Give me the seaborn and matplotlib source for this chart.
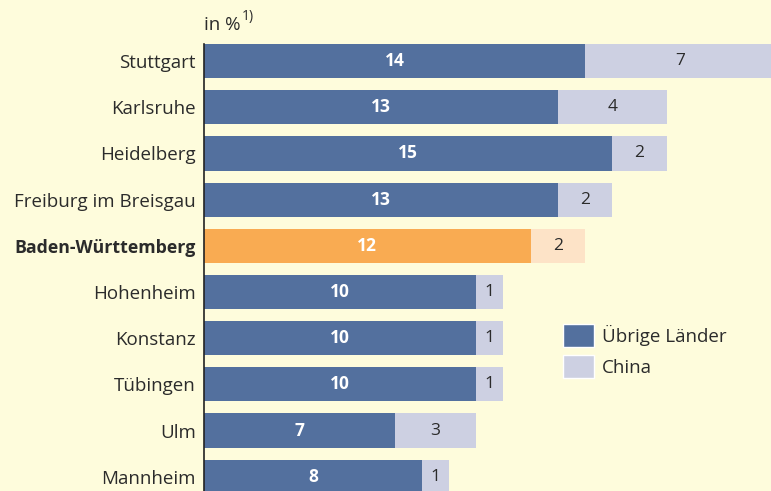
import pandas as pd
import seaborn as sns
from matplotlib import pyplot as plt
from matplotlib.patches import Patch

cities = ["Stuttgart", "Karlsruhe", "Heidelberg", "Freiburg im Breisgau", "Baden-Württemberg",
          "Hohenheim", "Konstanz", "Tübingen", "Ulm", "Mannheim"]
uebrige = [14, 13, 15, 13, 12, 10, 10, 10, 7, 8]
china = [7, 4, 2, 2, 2, 1, 1, 1, 3, 1]

bg = "#FEFCDC"
blue = "#53709E"
light = "#CDD0E2"
orange = "#F9AB52"
light_orange = "#FDE3C7"
text_col = "#2b2b2b"

df = pd.DataFrame({"city": cities, "uebrige": uebrige, "china": china})
df["total"] = df["uebrige"] + df["china"]

sns.set_style("white")
plt.rcParams["font.family"] = ["Open Sans", "DejaVu Sans"]

fig = plt.figure(figsize=(7.71, 4.91), dpi=100, facecolor=bg)
ax = fig.add_axes([204 / 771, 0, 1 - 204 / 771, 1 - 44 / 491])
ax.set_facecolor(bg)

pal_total = {c: (light_orange if c == "Baden-Württemberg" else light) for c in cities}
pal_main = {c: (orange if c == "Baden-Württemberg" else blue) for c in cities}

sns.barplot(data=df, x="total", y="city", hue="city", palette=pal_total, width=0.74,
            dodge=False, legend=False, ax=ax, saturation=1, linewidth=0, edgecolor="none")
sns.barplot(data=df, x="uebrige", y="city", hue="city", palette=pal_main, width=0.74,
            dodge=False, legend=False, ax=ax, saturation=1, linewidth=0, edgecolor="none")

# zahlen in den segmenten
for i, row in df.iterrows():
    ax.text(row["uebrige"] / 2, i, str(row["uebrige"]), ha="center", va="center",
            color="white", fontsize=12.5, fontweight="bold")
    ax.text(row["uebrige"] + row["china"] / 2, i, str(row["china"]), ha="center", va="center",
            color=text_col, fontsize=12.5)

ax.set_xlim(0, 567 / 27.22)
ax.set_ylim(9.31, -0.37)
ax.set_xlabel("")
ax.set_ylabel("")
ax.set_xticks([])
ax.tick_params(axis="y", length=0, pad=6, labelsize=13.5, labelcolor=text_col)
for lbl in ax.get_yticklabels():
    if lbl.get_text() == "Baden-Württemberg":
        lbl.set_fontweight("bold")
        lbl.set_fontsize(12.8)
for s in ["top", "right", "bottom"]:
    ax.spines[s].set_visible(False)
ax.spines["left"].set_color("#222222")
ax.spines["left"].set_linewidth(1.2)

fig.text(204 / 771, 1 - 30 / 491, "in %", fontsize=13.5, color=text_col, va="baseline")
fig.text(242 / 771, 1 - 20 / 491, "1)", fontsize=10, color=text_col, va="baseline")

handles = [Patch(facecolor=blue, label="Übrige Länder"), Patch(facecolor=light, label="China")]
fig.legend(handles=handles, loc="upper left", bbox_to_anchor=(563 / 771, 1 - 324 / 491),
           frameon=False, fontsize=13.5, handlelength=1.65, handleheight=1.5,
           labelspacing=0.43, handletextpad=0.43, borderpad=0, borderaxespad=0,
           labelcolor=text_col)

fig.savefig("out.png", dpi=100, facecolor=bg)
